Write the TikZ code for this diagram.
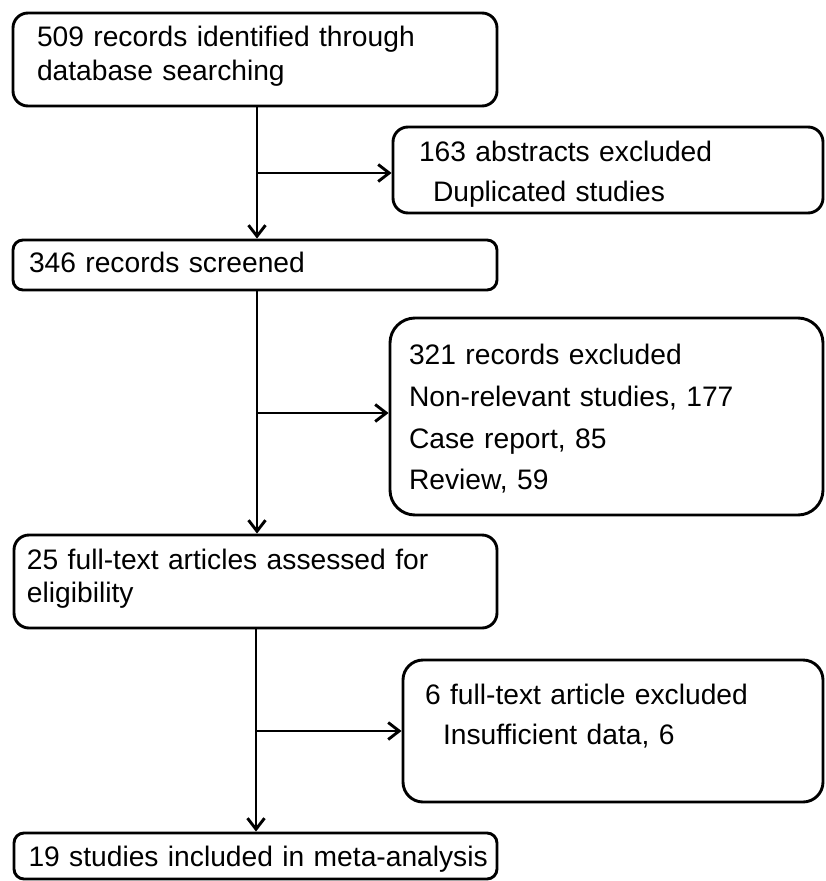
\documentclass[tikz,border=0pt]{standalone}
\usepackage{fontspec}
\setmainfont{Liberation Sans}
\usetikzlibrary{arrows.meta}
\tikzset{
  box/.style={draw, line width=2.9pt, align=left, inner ysep=4pt, font=\fontsize{28.2}{34}\selectfont},
  arr/.style={line width=2.9pt, -{Straight Barb[length=11pt,width=17pt]}}
}

\begin{document}
\begin{tikzpicture}[x=1pt,y=-1pt]
\useasboundingbox (0,0) rectangle (825,881);
\node[box, rounded corners=15pt, text width=436pt, inner xsep=24pt, minimum height=93pt, text depth=45.8pt] (ident) at (255,59.5) {509 records identified through\\database searching};
\node[box, rounded corners=15pt, text width=378pt, inner xsep=26pt, minimum height=86pt, text depth=36.8pt, font=\fontsize{28.2}{40}\selectfont] (dup) at (608,170) {163 abstracts excluded\\\hspace*{14pt}Duplicated studies};
\node[box, rounded corners=10pt, text width=452pt, inner xsep=16pt, minimum height=50pt, text depth=4.8pt] (screen) at (255,265) {346 records screened};
\node[box, rounded corners=25pt, text width=395pt, inner xsep=19pt, minimum height=197pt, text depth=123.8pt, font=\fontsize{28.2}{41.7}\selectfont] (excl) at (606.5,416.5) {321 records excluded\\Non-relevant studies, 177\\Case report, 85\\Review, 59};
\node[box, rounded corners=15pt, text width=457pt, inner xsep=13pt, minimum height=93pt, text depth=43.8pt, font=\fontsize{28.2}{33}\selectfont] (full) at (255.5,581.5) {25 full-text articles assessed for\\eligibility};
\node[box, rounded corners=20pt, text width=376pt, inner xsep=22pt, minimum height=142pt, text depth=72.5pt, font=\fontsize{28.2}{40}\selectfont] (insuf) at (613,731) {6 full-text article excluded\\\hspace*{18pt}Insufficient data, 6};
\node[box, rounded corners=10pt, text width=464pt, inner xsep=9.5pt, minimum height=46pt, text depth=0pt] (incl) at (255.5,856) {\mbox{\hspace*{5pt}19 studies included in meta-analysis}};
\coordinate (j1) at (257,173);
\coordinate (j2) at (257,413);
\coordinate (j3) at (256,731);
\draw[arr] (ident.south -| j1) -- (screen.north -| j1);
\draw[arr] (j1) -- (j1 -| dup.west);
\draw[arr] (screen.south -| j2) -- (full.north -| j2);
\draw[arr] (j2) -- (j2 -| excl.west);
\draw[arr] (full.south -| j3) -- (incl.north -| j3);
\draw[arr] (j3) -- (j3 -| insuf.west);
\end{tikzpicture}
\end{document}
